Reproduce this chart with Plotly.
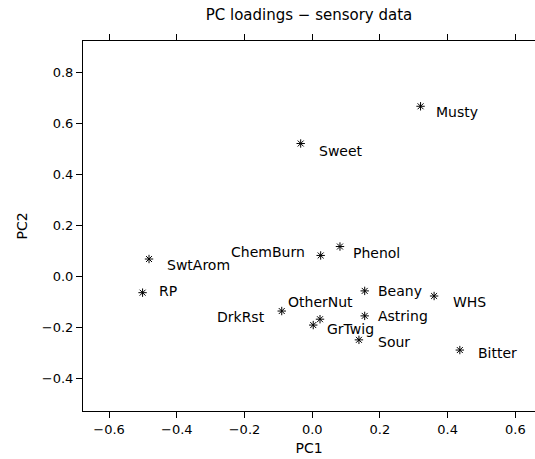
import plotly.graph_objects as go

# ---- data ----
attributes = ["Musty", "Sweet", "Phenol", "ChemBurn", "SwtArom", "RP", "Beany",
              "WHS", "Astring", "DrkRst", "OtherNut", "GrTwig", "Sour", "Bitter"]
pc1 = [0.320, -0.034, 0.082, 0.025, -0.482, -0.501, 0.155,
       0.360, 0.155, -0.090, 0.023, 0.003, 0.138, 0.436]
pc2 = [0.669, 0.523, 0.119, 0.084, 0.070, -0.062, -0.055,
       -0.075, -0.153, -0.134, -0.166, -0.189, -0.247, -0.287]
x_ticks = [-0.6, -0.4, -0.2, 0.0, 0.2, 0.4, 0.6]
y_ticks = [-0.4, -0.2, 0.0, 0.2, 0.4, 0.6, 0.8]

# ---- label placement (pixel offsets from each point) ----
label_place = {
    "Musty": ("left", 13, 6), "Sweet": ("left", 16, 7), "Phenol": ("left", 11, 6),
    "ChemBurn": ("right", -14, -3), "SwtArom": ("left", 16, 6), "RP": ("left", 14, -2),
    "Beany": ("left", 11, 0), "WHS": ("left", 17, 6), "Astring": ("left", 11, 0),
    "DrkRst": ("right", -15, 6), "OtherNut": ("center", 0, -17), "GrTwig": ("left", 12, 4),
    "Sour": ("left", 17, 2), "Bitter": ("left", 16, 3),
}

FONT = "DejaVu Sans, sans-serif"

fig = go.Figure()
fig.add_trace(go.Scatter(
    x=pc1, y=pc2, mode="markers",
    marker=dict(symbol="asterisk-open", size=7, color="black",
                line=dict(color="black", width=1)),
    hoverinfo="skip", showlegend=False,
))

for name, xv, yv in zip(attributes, pc1, pc2):
    anchor, dx, dy = label_place[name]
    fig.add_annotation(x=xv, y=yv, text=name, showarrow=False,
                       xanchor=anchor, yanchor="middle",
                       xshift=dx, yshift=-dy,
                       font=dict(family=FONT, size=14, color="black"))

fmt = lambda v: ("\u2212" if v < 0 else "") + f"{abs(v):.1f}"

fig.update_layout(
    width=535, height=459,
    margin=dict(l=83, r=0, t=41, b=48, autoexpand=False),
    paper_bgcolor="white", plot_bgcolor="white",
    font=dict(family=FONT, size=13, color="black"),
    title=dict(text="PC loadings \u2212 sensory data", x=0.5, xref="paper",
               xanchor="center", y=1 - 15 / 459, yref="container", yanchor="middle",
               font=dict(family=FONT, size=15, color="black")),
    xaxis=dict(range=[-0.677, 0.658], tickvals=x_ticks,
               ticktext=[fmt(v) for v in x_ticks],
               showgrid=False, zeroline=False, showline=True, linecolor="black",
               linewidth=1, mirror="ticks", ticks="outside", ticklen=6,
               tickcolor="black", tickwidth=1, automargin=False,
               title=dict(text="PC1", standoff=7, font=dict(size=14))),
    yaxis=dict(range=[-0.526, 0.925], tickvals=y_ticks,
               ticktext=[fmt(v) for v in y_ticks],
               showgrid=False, zeroline=False, showline=True, linecolor="black",
               linewidth=1, mirror=False, ticks="outside", ticklen=6,
               tickcolor="black", tickwidth=1, automargin=False,
               title=dict(text="PC2", standoff=10, font=dict(size=14))),
)

fig.write_html("out.html", config={"displayModeBar": False},
               post_script="document.body.style.margin='0px';")
